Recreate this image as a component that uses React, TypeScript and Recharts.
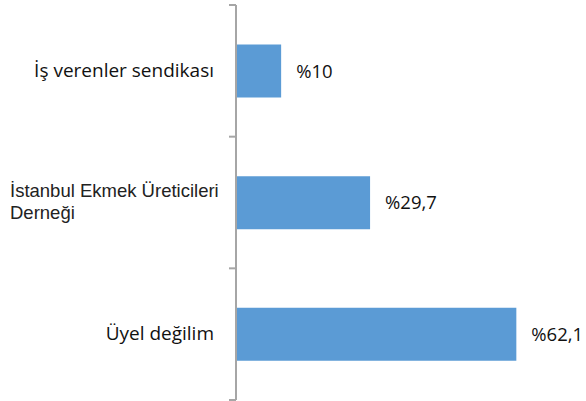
import React from 'react';
import { BarChart, Bar, XAxis, YAxis, LabelList } from 'recharts';

const categories = ['İş verenler sendikası', 'İstanbul Ekmek Üreticileri Derneği', 'Üyel değilim'];
const shares = [10, 29.7, 62.1];

const data = categories.map((name, i) => ({ name, value: shares[i] }));

const BAR_COLOR = '#5B9BD5';
const AXIS_COLOR = '#A6A6A6';

// category labels + the small tick marks between the bands (Excel style)
const CategoryTick = (props: any) => {
  const { x, y, payload, index, visibleTicksCount } = props;
  const label: string = payload.value;
  const half = payload.offset || 0; // half of the band height
  const mark = (yy: number) => (
    <line x1={x - 7} x2={x} y1={yy} y2={yy} stroke={AXIS_COLOR} strokeWidth={2} />
  );
  let text;
  if (label.startsWith('İstanbul')) {
    text = (
      <text x={10} y={y} fontFamily="'Liberation Sans', Arial, sans-serif" fontSize={18.5} fill="#222">
        <tspan x={10} dy={-6}>İstanbul Ekmek Üreticileri</tspan>
        <tspan x={10} dy={22}>Derneği</tspan>
      </text>
    );
  } else {
    text = (
      <text
        x={x - 22}
        y={y}
        dy={6}
        textAnchor="end"
        fontFamily="'Open Sans', sans-serif"
        fontSize={19}
        fill="#111"
      >
        {label}
      </text>
    );
  }
  return (
    <g>
      {mark(y - half)}
      {index === visibleTicksCount - 1 && mark(y + half)}
      {text}
    </g>
  );
};

const fmt = (v: any) => '%' + String(v).replace('.', ',');

export default function App() {
  return (
    <div style={{ position: 'absolute', left: 0, top: 0 }}>
      <BarChart
        width={586}
        height={401}
        data={data}
        layout="vertical"
        margin={{ top: 5, right: 34, bottom: 1, left: 0 }}
        barCategoryGap="30%"
      >
        <XAxis type="number" domain={[0, 70]} hide />
        <YAxis
          type="category"
          dataKey="name"
          width={236}
          axisLine={{ stroke: AXIS_COLOR, strokeWidth: 2 }}
          tickLine={false}
          tickSize={0}
          tickMargin={0}
          tick={<CategoryTick />}
          interval={0}
        />
        <Bar dataKey="value" fill={BAR_COLOR} isAnimationActive={false}>
          <LabelList
            dataKey="value"
            position="right"
            offset={15}
            formatter={fmt}
            fill="#111"
            fontFamily="'Open Sans', sans-serif"
            fontSize={18.5}
          />
        </Bar>
      </BarChart>
    </div>
  );
}
